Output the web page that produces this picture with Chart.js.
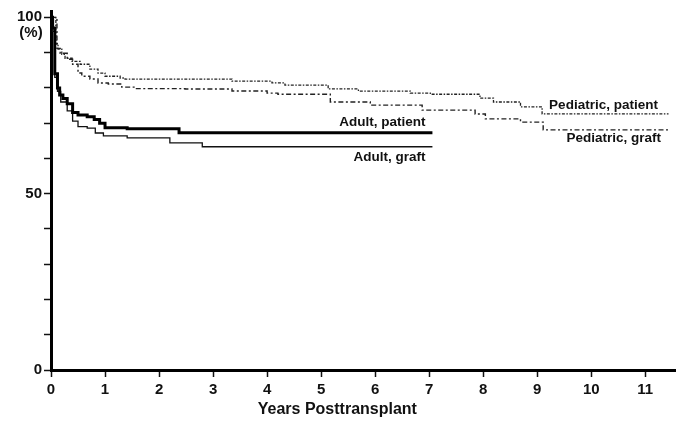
<!DOCTYPE html>
<html>
<head>
<meta charset="utf-8">
<script src="https://cdn.jsdelivr.net/npm/chart.js@4.4.1/dist/chart.umd.min.js"></script>
<style>
  html, body { margin: 0; padding: 0; background: #fff; }
  canvas { display: block; }
</style>
</head>
<body>
<canvas id="survivalChart" width="678" height="421"></canvas>
<script>
// Kaplan-Meier style survival (%) by years posttransplant
const adultPatientYears = [0, 0.03, 0.07, 0.12, 0.16, 0.22, 0.30, 0.40, 0.50, 0.67, 0.80, 0.90, 1.00, 1.41, 2.37, 7.06];
const adultPatientPct   = [100, 97, 84, 80, 78, 77, 75.5, 73, 72.3, 71.8, 71, 70, 68.7, 68.4, 67.3, 67.3];

const adultGraftYears = [0, 0.03, 0.07, 0.12, 0.18, 0.30, 0.40, 0.50, 0.67, 0.82, 0.97, 1.41, 2.20, 2.80, 7.06];
const adultGraftPct   = [100, 96, 83, 79, 76, 73.5, 70.6, 69, 68.6, 67.2, 66.4, 65.8, 64.4, 63.3, 63.3];

const pedPatientYears = [0, 0.09, 0.13, 0.20, 0.26, 0.39, 0.54, 0.72, 0.87, 1.00, 1.28, 1.37, 3.35, 4.09, 4.33, 5.13, 5.69, 6.65, 7.02, 7.94, 8.19, 8.69, 9.09, 11.43];
const pedPatientPct   = [100, 92.6, 91, 89.5, 88.4, 87.5, 86.7, 85.3, 84.2, 83.3, 82.8, 82.5, 81.9, 81.4, 80.8, 79.7, 79.1, 78.5, 78.2, 77.1, 76, 74.6, 72.6, 72.6];

const pedGraftYears = [0, 0.11, 0.17, 0.30, 0.40, 0.50, 0.57, 0.72, 0.87, 1.06, 1.31, 1.55, 2.48, 3.35, 4.00, 4.20, 5.17, 5.91, 6.87, 7.85, 8.04, 8.69, 9.11, 11.44];
const pedGraftPct   = [100, 91.2, 89.8, 88.1, 86.7, 84.2, 83.3, 82.5, 81.4, 81.1, 80.2, 79.8, 79.7, 79.1, 78.5, 78.2, 76, 75.1, 73.7, 72.6, 71.2, 70.3, 68.1, 68.1];

const xTickValues = [0, 1, 2, 3, 4, 5, 6, 7, 8, 9, 10, 11];
const yTickLabels = [0, 50, 100];

const toPoints = (xs, ys) => xs.map((x, i) => ({ x: x, y: ys[i] }));

const FONT = "'Liberation Sans', Arial, Helvetica, sans-serif";
Chart.defaults.font.family = FONT;
Chart.defaults.color = '#111';

// curve names, axis title and the "(%)" unit
const textPlugin = {
    id: 'curveLabels',
    afterDraw(chart, args, opts) {
        const { ctx, scales: { x, y } } = chart;
        ctx.save();
        ctx.fillStyle = '#111';
        ctx.textBaseline = 'middle';
        opts.items.forEach(item => {
            ctx.font = `bold ${item.size}px ${FONT}`;
            ctx.textAlign = item.align;
            ctx.fillText(item.text, x.getPixelForValue(item.x), y.getPixelForValue(item.y));
        });
        // unit under the 100 label
        ctx.font = `bold 15px ${FONT}`;
        ctx.textAlign = 'center';
        ctx.fillText('(%)', 31, y.getPixelForValue(100) + 16);
        // x axis title
        ctx.font = `bold 16px ${FONT}`;
        ctx.fillText('Years Posttransplant', x.getPixelForValue(5.3), 410);
        ctx.restore();
    }
};

new Chart(document.getElementById('survivalChart'), {
    type: 'line',
    data: {
        datasets: [
            {
                label: 'Adult, patient',
                data: toPoints(adultPatientYears, adultPatientPct),
                borderColor: '#000',
                borderWidth: 3,
                stepped: true
            },
            {
                label: 'Adult, graft',
                data: toPoints(adultGraftYears, adultGraftPct),
                borderColor: '#111',
                borderWidth: 1.3,
                stepped: true
            },
            {
                label: 'Pediatric, patient',
                data: toPoints(pedPatientYears, pedPatientPct),
                borderColor: '#222',
                borderWidth: 1.3,
                borderDash: [3, 1.5, 1.5, 1.5],
                stepped: true
            },
            {
                label: 'Pediatric, graft',
                data: toPoints(pedGraftYears, pedGraftPct),
                borderColor: '#222',
                borderWidth: 1.4,
                borderDash: [5, 2.5, 2, 2.5],
                stepped: true
            }
        ]
    },
    options: {
        responsive: false,
        animation: false,
        elements: { point: { radius: 0 } },
        layout: { padding: { top: 9, right: 3, left: 0, bottom: 0 } },
        plugins: {
            legend: { display: false },
            tooltip: { enabled: false },
            curveLabels: {
                items: [
                    { text: 'Adult, patient', x: 6.93, y: 70.3, align: 'right', size: 13.5 },
                    { text: 'Adult, graft', x: 6.93, y: 60.2, align: 'right', size: 13.5 },
                    { text: 'Pediatric, patient', x: 9.22, y: 75.1, align: 'left', size: 13.5 },
                    { text: 'Pediatric, graft', x: 9.54, y: 65.8, align: 'left', size: 13.5 }
                ]
            }
        },
        scales: {
            x: {
                type: 'linear',
                min: 0,
                max: 11.55,
                afterFit: scale => { scale.height = 51; },
                afterBuildTicks: scale => {
                    scale.ticks = xTickValues.map(v => ({ value: v }));
                },
                grid: {
                    drawOnChartArea: false,
                    drawTicks: true,
                    tickLength: 7,
                    tickWidth: 1.5,
                    tickColor: '#111'
                },
                border: { display: true, color: '#000', width: 3 },
                ticks: {
                    padding: 4,
                    maxRotation: 0,
                    autoSkip: false,
                    font: { size: 15, weight: 'bold' }
                }
            },
            y: {
                type: 'linear',
                min: 0,
                max: 101.8,
                afterFit: scale => { scale.width = 51; },
                afterBuildTicks: scale => {
                    const vals = [];
                    for (let v = 0; v <= 100; v += 10) vals.push({ value: v });
                    scale.ticks = vals;
                },
                grid: {
                    drawOnChartArea: false,
                    drawTicks: true,
                    tickLength: 7,
                    tickWidth: 1.5,
                    tickColor: '#111'
                },
                border: { display: true, color: '#000', width: 3 },
                ticks: {
                    padding: 2,
                    autoSkip: false,
                    font: { size: 15, weight: 'bold' },
                    callback: v => (yTickLabels.includes(v) ? String(v) : '')
                }
            }
        }
    },
    plugins: [textPlugin]
});
</script>
</body>
</html>
